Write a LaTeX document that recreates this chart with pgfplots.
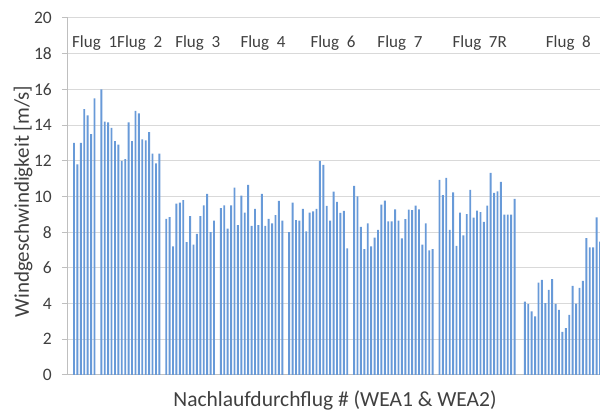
\documentclass[border=0pt]{standalone}
\usepackage{fontspec}
\setmainfont{Carlito}
\usepackage{pgfplots}
\pgfplotsset{compat=1.18}
\definecolor{barblue}{RGB}{104,154,216}
\definecolor{txt}{RGB}{64,64,64}
\definecolor{gridc}{RGB}{217,217,217}
\definecolor{axc}{RGB}{191,191,191}
\begin{document}
\begin{tikzpicture}
\useasboundingbox (-68pt,-37pt) rectangle (532pt,375pt);
\begin{axis}[
  at={(0pt,0pt)}, anchor=south west,
  scale only axis, width=532pt, height=357pt,
  xmin=-1.75, xmax=154.0, ymin=0, ymax=20,
  ytick={0,2,...,20}, xtick=\empty,
  axis lines=left, axis line style={draw=axc, line width=1pt, -},
  ymajorgrids, grid style={draw=gridc, line width=1pt},
  tick align=outside, major tick length=6pt,
  ytick style={draw=axc, line width=1pt},
  /pgf/number format/assume math mode=true,
  yticklabel style={font=\fontsize{17.5}{20}\selectfont, text=txt, anchor=east, inner sep=0pt, xshift=-10pt},
  clip=true,
]
\addplot[ybar, bar width=1.9pt, fill=barblue, draw=none] table {
x y
0 13.0
1 11.8
2 13.0
3 14.9
4 14.55
5 13.5
6 15.5
8 16.0
9 14.2
10 14.15
11 13.85
12 13.1
13 12.9
14 12.0
15 12.1
16 14.15
17 13.1
18 14.8
19 14.65
20 13.2
21 13.15
22 13.6
23 12.4
24 11.85
25 12.4
27 8.75
28 8.85
29 7.2
30 9.6
31 9.65
32 9.8
33 7.45
34 8.9
35 7.3
36 7.9
37 8.9
38 9.5
39 10.15
40 8.0
41 8.65
43 9.35
44 9.5
45 8.2
46 9.5
47 10.5
48 8.4
49 10.05
50 9.1
51 10.65
52 8.35
53 9.3
54 8.4
55 10.15
56 8.35
57 8.75
58 8.5
59 8.95
60 9.75
61 8.65
63 8.0
64 9.65
65 8.67
66 8.65
67 9.3
68 8.05
69 9.1
70 9.17
71 9.3
72 12.0
73 11.77
74 9.47
75 8.65
76 10.27
77 9.7
78 9.08
79 9.2
80 7.1
82 10.6
83 10.0
84 8.3
85 7.05
86 8.5
87 7.2
88 7.7
89 8.13
90 9.55
91 9.77
92 8.6
93 8.6
94 9.28
95 8.65
96 7.65
97 8.73
98 9.26
99 9.23
100 9.49
101 9.28
102 7.3
103 8.5
104 6.98
105 7.05
107 10.93
108 10.07
109 11.04
110 8.13
111 10.23
112 7.24
113 9.1
114 7.82
115 9.01
116 10.37
117 8.82
118 9.21
119 9.12
120 8.58
121 9.49
122 11.32
123 10.2
124 10.29
125 10.82
126 8.99
127 8.99
128 8.99
129 9.87
132 4.11
133 3.97
134 3.57
135 3.29
136 5.18
137 5.33
138 4.02
139 4.77
140 5.37
141 3.98
142 3.65
143 2.41
144 2.63
145 3.37
146 4.99
147 4.0
148 4.88
149 5.28
150 7.67
151 7.15
152 7.15
153 8.83
154 7.47
};
\begin{scope}[every node/.style={anchor=base west, inner sep=0pt, text=txt, font=\fontsize{17}{20}\selectfont}]
\node at (axis cs:-0.58,18.32) {Flug\ \ 1};
\node at (axis cs:12.6,18.32) {Flug\ \ 2};
\node at (axis cs:29.6,18.32) {Flug\ \ 3};
\node at (axis cs:48.7,18.32) {Flug\ \ 4};
\node at (axis cs:69.2,18.32) {Flug\ \ 6};
\node at (axis cs:88.8,18.32) {Flug\ \ 7};
\node at (axis cs:110.8,18.32) {Flug\ \ 7R};
\node at (axis cs:138.1,18.32) {Flug\ \ 8};
\end{scope}
\end{axis}
\node[anchor=base, inner sep=0pt, text=txt, font=\fontsize{21.5}{24}\selectfont] at (267pt,-31.5pt) {Nachlaufdurchflug \# (WEA1 \& WEA2)};
\node[anchor=base, rotate=90, inner sep=0pt, text=txt, font=\fontsize{21}{24}\selectfont] at (-39pt,173.5pt) {Windgeschwindigkeit [m/s]};
\end{tikzpicture}
\end{document}
